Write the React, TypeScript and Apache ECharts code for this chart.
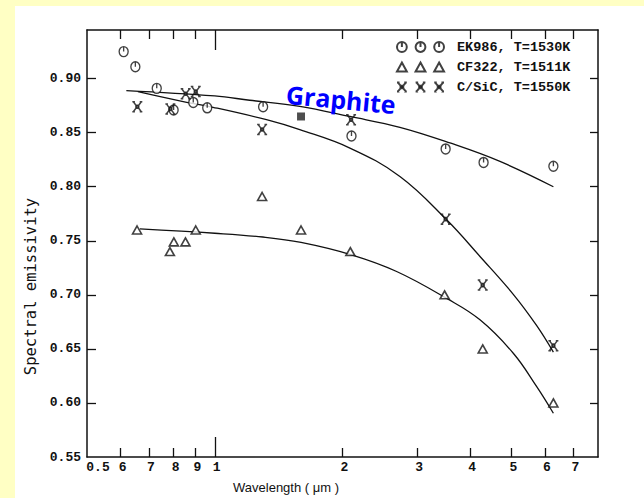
import { useEffect, useRef } from 'react';
import * as echarts from 'echarts';

// ---- data ----
const ek986Wavelength = [0.61, 0.65, 0.73, 0.8, 0.89, 0.96, 1.3, 2.1, 3.5, 4.3, 6.28];
const ek986Emissivity = [0.925, 0.911, 0.891, 0.871, 0.878, 0.873, 0.874, 0.847, 0.835, 0.8225, 0.819];

const cf322Wavelength = [0.656, 0.784, 0.801, 0.853, 0.902, 1.293, 1.597, 2.087, 3.48, 4.28, 6.28];
const cf322Emissivity = [0.76, 0.74, 0.749, 0.749, 0.76, 0.791, 0.76, 0.74, 0.7, 0.65, 0.6];

const csicWavelength = [0.657, 0.786, 0.854, 0.902, 1.293, 2.095, 3.5, 4.28, 6.28];
const csicEmissivity = [0.874, 0.872, 0.886, 0.888, 0.853, 0.862, 0.77, 0.709, 0.653];

const filledWavelength = [1.597];
const filledEmissivity = [0.865];

const ek986FitWavelength = [0.619, 1.0, 1.209, 1.586, 2.082, 2.731, 3.583, 4.7, 6.28];
const ek986FitEmissivity = [0.889, 0.884, 0.88, 0.8744, 0.865, 0.855, 0.8405, 0.8234, 0.8];

const csicFitWavelength = [0.659, 0.827, 0.991, 1.324, 1.586, 2.082, 2.731, 3.519, 4.217, 5.052, 5.737, 6.28];
const csicFitEmissivity = [0.888, 0.8795, 0.8735, 0.862, 0.8528, 0.8358, 0.8095, 0.7694, 0.7355, 0.7005, 0.6715, 0.647];

const cf322FitWavelength = [0.666, 1.0, 1.298, 1.597, 2.1, 2.683, 3.519, 4.217, 5.052, 5.737, 6.28];
const cf322FitEmissivity = [0.761, 0.757, 0.7535, 0.7485, 0.737, 0.7216, 0.6967, 0.6769, 0.646, 0.6151, 0.5905];

const legendNames = ['EK986, T=1530K', 'CF322, T=1511K', 'C/SiC, T=1550K'];

const xLabelValues = [0.5, 0.6, 0.7, 0.8, 0.9, 1, 2, 3, 4, 5, 6, 7];
const xLabelTexts = ['0.5', '6', '7', '8', '9', '1', '2', '3', '4', '5', '6', '7'];
const xMinorTickValues = [0.6, 0.7, 0.8, 0.9, 2, 3, 4, 5, 6, 7];
const xMajorTickValues = [1];
const yLabelValues = [0.55, 0.6, 0.65, 0.7, 0.75, 0.8, 0.85, 0.9];
const yTickValues = [0.6, 0.65, 0.7, 0.75, 0.8, 0.85, 0.9];

const X_MIN = 0.5;
const X_MAX = 8;
const Y_MIN = 0.55;
const Y_MAX = 0.945;

// ---- symbols ----
const circleD = (o: number) =>
  `M${o + 10},5A5,5,0,1,1,${o},5A5,5,0,1,1,${o + 10},5ZM${o + 5},0.6L${o + 5},5`;
const triD = (o: number) => `M${o + 5},0L${o + 10},9L${o},9Z`;
const crossD = (o: number) =>
  `M${o + 3.6},3.6L${o + 6.4},3.6L${o + 6.4},6.4L${o + 3.6},6.4Z` +
  `M${o + 1},0.5L${o + 3.6},3.6M${o + 9},0.5L${o + 6.4},3.6M${o + 1},9.5L${o + 3.6},6.4M${o + 9},9.5L${o + 6.4},6.4` +
  `M${o},0.5L${o + 2.6},0.5M${o + 7.4},0.5L${o + 10},0.5M${o},9.5L${o + 2.6},9.5M${o + 7.4},9.5L${o + 10},9.5`;

const triple = (f: (o: number) => string) => 'path://' + f(0) + f(19) + f(38);

const monoFont = "'Liberation Mono', 'DejaVu Sans Mono', monospace";
const ink = '#111';

const zip = (xs: number[], ys: number[]) => xs.map((x, i) => [x, ys[i]]);
const lg = (v: number) => Math.log10(v);

export default function App() {
  const ref = useRef<HTMLDivElement>(null);

  useEffect(() => {
    if (!ref.current) return;
    const chart = echarts.init(ref.current, undefined, { renderer: 'svg' });

    const markerStyle = { color: '#fff', borderColor: ink, borderWidth: 1.4 };
    const fitLine = (name: string, xs: number[], ys: number[]) => ({
      name,
      type: 'line',
      xAxisIndex: 0,
      yAxisIndex: 0,
      data: zip(xs, ys),
      smooth: 0.4,
      showSymbol: false,
      symbol: 'none',
      silent: true,
      lineStyle: { color: ink, width: 1.3 },
      z: 3,
    });

    const valueX = (position: 'top' | 'bottom') => ({
      type: 'value',
      min: lg(X_MIN),
      max: lg(X_MAX),
      position,
      axisLine: { show: true, onZero: false, lineStyle: { color: ink, width: 1.5 } },
      splitLine: { show: false },
    });

    chart.setOption({
      animation: false,
      backgroundColor: '#FFFFC4',
      grid: { left: 87, right: 46, top: 30, bottom: 41, containLabel: false, outerBoundsMode: 'none' },
      graphic: [
        {
          type: 'rect',
          z: -100,
          silent: true,
          shape: { x: 15, y: 6, width: 629, height: 492 },
          style: { fill: '#ffffff' },
        },
        {
          type: 'text',
          x: 341,
          y: 99,
          rotation: -0.095,
          z: 50,
          style: {
            text: 'Graphite',
            fill: '#0000ff',
            font: "bold 25px 'Open Sans', 'Noto Sans', sans-serif",
            align: 'center',
            verticalAlign: 'middle',
          },
        },
      ],
      legend: {
        orient: 'vertical',
        left: 391,
        top: 35,
        itemWidth: 47,
        itemHeight: 10,
        itemGap: 6,
        selectedMode: false,
        data: [
          { name: legendNames[0], icon: triple(circleD) },
          { name: legendNames[1], icon: triple(triD) },
          { name: legendNames[2], icon: triple(crossD) },
        ],
        textStyle: {
          fontFamily: monoFont,
          fontWeight: 'bold',
          fontSize: 13.5,
          lineHeight: 14,
          color: ink,
          padding: [0, 0, 0, 8],
        },
      },
      xAxis: [
        { type: 'log', logBase: 10, min: X_MIN, max: X_MAX, show: false },
        {
          ...valueX('bottom'),
          axisTick: {
            show: true,
            inside: true,
            length: 9,
            customValues: xMinorTickValues.map(lg),
            lineStyle: { color: ink, width: 1.3 },
          },
          axisLabel: {
            show: true,
            customValues: xLabelValues.map(lg),
            margin: 4,
            formatter: (v: number) => {
              let idx = 0;
              let best = Infinity;
              xLabelValues.forEach((lv, i) => {
                const d = Math.abs(lg(lv) - v);
                if (d < best) {
                  best = d;
                  idx = i;
                }
              });
              return idx === 0 ? `{first|${xLabelTexts[idx]}}` : `{n|${xLabelTexts[idx]}}`;
            },
            rich: {
              first: { fontFamily: monoFont, fontSize: 13, fontWeight: 'bold', color: ink, padding: [0, 0, 0, 22] },
              n: { fontFamily: monoFont, fontSize: 13, fontWeight: 'bold', color: ink, padding: [0, 0, 0, 4] },
            },
          },
          name: 'Wavelength ( μm )',
          nameLocation: 'middle',
          nameGap: 24,
          nameTextStyle: {
            fontFamily: "'Liberation Sans', Arial, sans-serif",
            fontSize: 13,
            color: ink,
            padding: [0, 113, 0, 0],
          },
        },
        {
          ...valueX('top'),
          axisTick: {
            show: true,
            inside: true,
            length: 9,
            customValues: xMinorTickValues.map(lg),
            lineStyle: { color: ink, width: 1.3 },
          },
          axisLabel: { show: false },
        },
        {
          ...valueX('bottom'),
          axisLine: { show: false },
          axisTick: {
            show: true,
            inside: true,
            length: 20,
            customValues: xMajorTickValues.map(lg),
            lineStyle: { color: ink, width: 1.3 },
          },
          axisLabel: { show: false },
        },
        {
          ...valueX('top'),
          axisLine: { show: false },
          axisTick: {
            show: true,
            inside: true,
            length: 20,
            customValues: xMajorTickValues.map(lg),
            lineStyle: { color: ink, width: 1.3 },
          },
          axisLabel: { show: false },
        },
      ],
      yAxis: [
        {
          type: 'value',
          min: Y_MIN,
          max: Y_MAX,
          interval: 0.05,
          position: 'left',
          axisLine: { show: true, onZero: false, lineStyle: { color: ink, width: 1.5 } },
          axisTick: {
            show: true,
            inside: true,
            length: 9,
            customValues: yTickValues,
            lineStyle: { color: ink, width: 1.3 },
          },
          axisLabel: {
            customValues: yLabelValues,
            formatter: (v: number) => v.toFixed(2),
            margin: 6,
            padding: [0, 0, 10, 0],
            fontFamily: monoFont,
            fontWeight: 'bold',
            fontSize: 13,
            color: ink,
          },
          splitLine: { show: false },
          name: 'Spectral emissivity',
          nameLocation: 'middle',
          nameRotate: 90,
          nameGap: 45,
          nameTextStyle: {
            fontFamily: "'DejaVu Sans Mono', monospace",
            fontSize: 15.5,
            color: ink,
            padding: [0, 86, 0, 0],
          },
        },
        {
          type: 'value',
          min: Y_MIN,
          max: Y_MAX,
          interval: 0.05,
          position: 'right',
          axisLine: { show: true, onZero: false, lineStyle: { color: ink, width: 1.5 } },
          axisTick: {
            show: true,
            inside: true,
            length: 8,
            customValues: yTickValues,
            lineStyle: { color: ink, width: 1.3 },
          },
          axisLabel: { show: false },
          splitLine: { show: false },
        },
      ],
      series: [
        fitLine('EK986 fit', ek986FitWavelength, ek986FitEmissivity),
        fitLine('C/SiC fit', csicFitWavelength, csicFitEmissivity),
        fitLine('CF322 fit', cf322FitWavelength, cf322FitEmissivity),
        {
          name: legendNames[0],
          type: 'scatter',
          xAxisIndex: 0,
          yAxisIndex: 0,
          data: zip(ek986Wavelength, ek986Emissivity),
          symbol: 'path://' + circleD(0),
          symbolSize: [9, 10],
          itemStyle: markerStyle,
          z: 5,
        },
        {
          name: legendNames[1],
          type: 'scatter',
          xAxisIndex: 0,
          yAxisIndex: 0,
          data: zip(cf322Wavelength, cf322Emissivity),
          symbol: 'path://' + triD(0),
          symbolSize: [9, 8],
          itemStyle: { color: '#fff', borderColor: ink, borderWidth: 1.6 },
          z: 5,
        },
        {
          name: legendNames[2],
          type: 'scatter',
          xAxisIndex: 0,
          yAxisIndex: 0,
          data: zip(csicWavelength, csicEmissivity),
          symbol: 'path://' + crossD(0),
          symbolSize: [10, 10],
          itemStyle: { color: '#333', borderColor: ink, borderWidth: 1.5 },
          z: 6,
        },
        {
          name: 'filled',
          type: 'scatter',
          xAxisIndex: 0,
          yAxisIndex: 0,
          data: zip(filledWavelength, filledEmissivity),
          symbol: 'rect',
          symbolSize: 8,
          itemStyle: { color: '#222' },
          z: 5,
        },
      ],
    });

    return () => chart.dispose();
  }, []);

  return (
    <div
      ref={ref}
      style={{ position: 'absolute', left: 0, top: 0, width: 644, height: 498 }}
    />
  );
}
